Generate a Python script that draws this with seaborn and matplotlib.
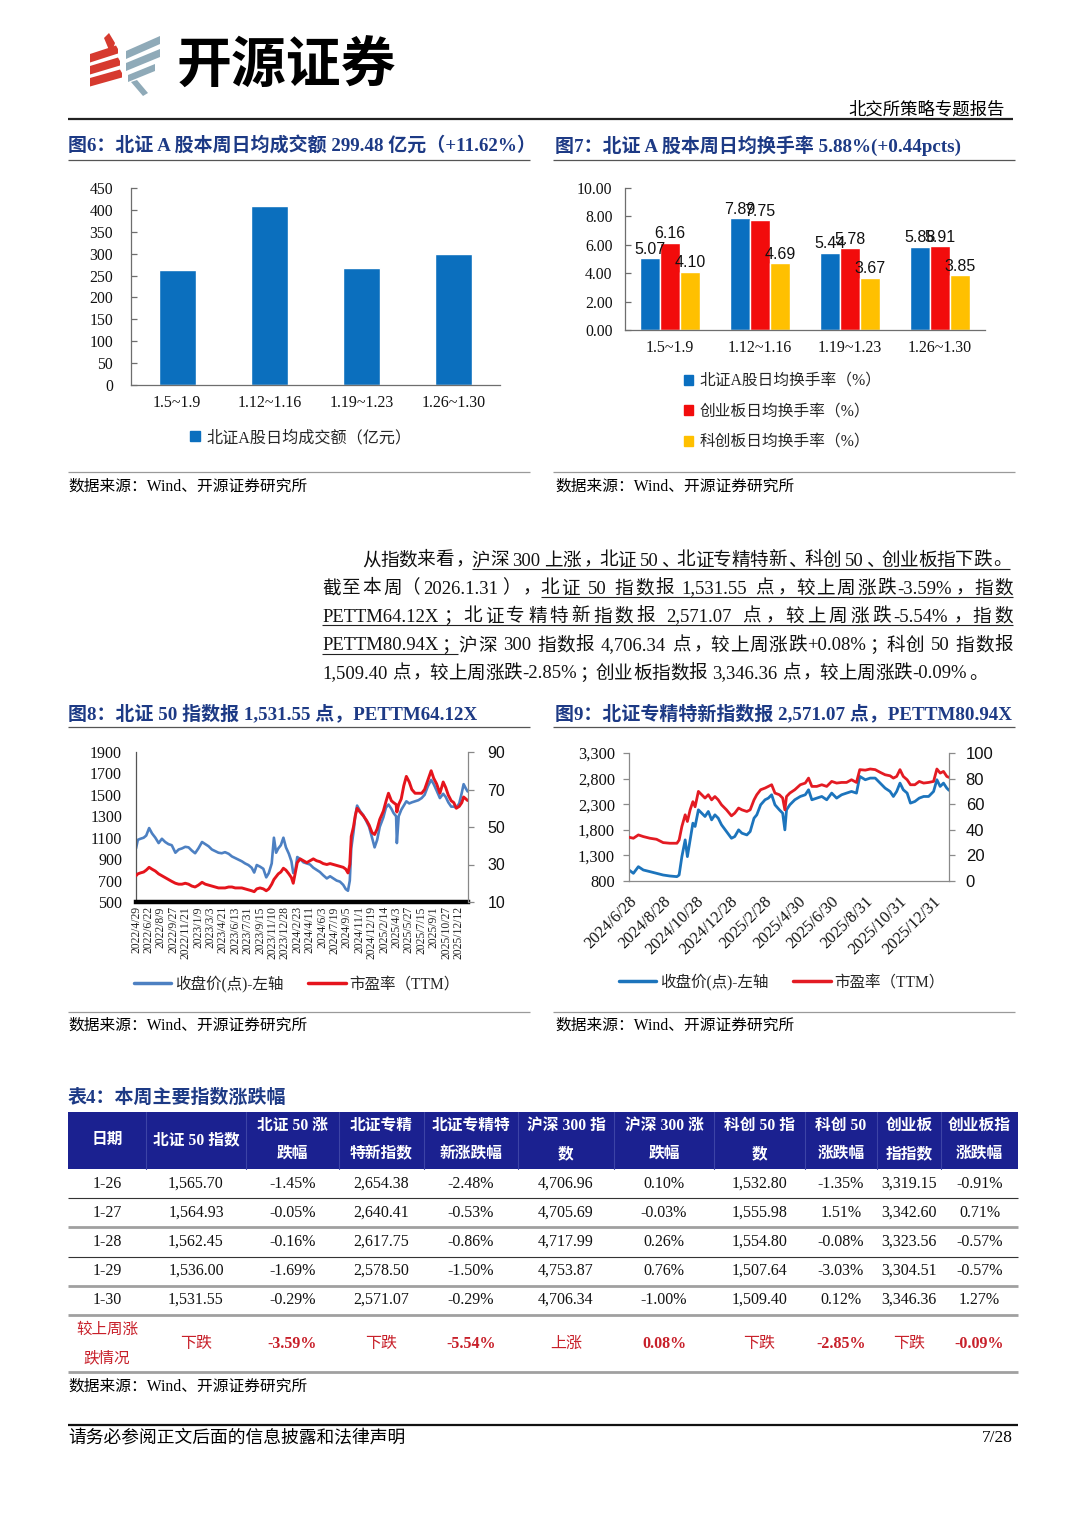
import re
import numpy as np
import pandas as pd
import matplotlib
matplotlib.use('Agg')
import matplotlib.pyplot as plt
import seaborn as sns
from matplotlib.lines import Line2D
from matplotlib.patches import Patch, Rectangle, Polygon

# ----------------------------- DATA -----------------------------
weeks = ['1.5~1.9', '1.12~1.16', '1.19~1.23', '1.26~1.30']
f6_amount = [263.0, 409.5, 268.3, 299.48]

f7_series = ['北证A股日均换手率（%）', '创业板日均换手率（%）', '科创板日均换手率（%）']
f7_bse = [5.07, 7.89, 5.44, 5.88]
f7_cyb = [6.16, 7.75, 5.78, 5.91]
f7_star = [4.10, 4.69, 3.67, 3.85]

# Fig 8: trading-day index from 2022/4/29
f8_day = [0, 5, 12, 21, 28, 36, 44, 53, 62, 71, 80, 89, 98, 108, 117, 126, 135, 144, 153, 162,
          171, 181, 190, 199, 208, 217, 226, 235, 244, 254, 263, 272, 281, 290, 299, 308, 317, 324, 331, 340,
          349, 357, 364, 372, 378, 384, 390, 397, 404, 411, 419, 426, 431, 437, 442, 450, 459, 468, 477, 486,
          495, 504, 513, 523, 532, 541, 550, 559, 568, 575, 581, 586, 590, 596, 601, 606, 614, 623, 632, 639,
          647, 654, 661, 668, 678, 685, 692, 700, 706, 713, 715, 720, 727, 734, 741, 749, 756, 765, 774, 783,
          791, 800, 809, 816, 824, 833, 842, 849, 856, 864, 871, 878, 886, 893, 898, 904, 909]
f8_close = [1000, 1080, 1090, 1100, 1120, 1190, 1140, 1100, 1050, 1090, 1060, 1040, 1030, 960, 990, 1000, 1015, 1010, 980, 955,
            1000, 1060, 1040, 1020, 990, 975, 960, 955, 965, 950, 925, 910, 895, 880, 860, 845, 820, 775, 845, 830,
            810, 730, 770, 860, 1100, 960, 1000, 1030, 1100, 1010, 950, 880, 770, 800, 920, 900, 870, 860, 850, 820,
            800, 780, 750, 720, 740, 720, 700, 690, 660, 620, 605, 700, 1000, 1150, 1300, 1400, 1350, 1310, 1250, 1200,
            1100, 1010, 1080, 1200, 1290, 1380, 1410, 1370, 1330, 1300, 1050, 1300, 1360, 1400, 1440, 1420, 1430, 1440, 1450, 1470,
            1500, 1580, 1640, 1600, 1540, 1470, 1510, 1480, 1430, 1390, 1390, 1380, 1420, 1520, 1600, 1560, 1531.55]
f8_pe = [24, 25, 25.5, 26, 27, 28.5, 27.5, 26.5, 25, 24, 23, 22, 21, 20, 19.5, 19.5, 20, 19.5, 18.5, 18,
         19, 20.5, 19.5, 19, 18.5, 18, 17.5, 17.5, 17.5, 18, 18, 17.5, 17.5, 17.5, 17, 16.5, 16, 15.5, 17, 17.5,
         17, 16, 17, 19.5, 22, 23.5, 25, 26, 28, 27, 25, 23, 20, 26, 31, 33, 32, 31, 32, 33,
         32, 31.5, 30.5, 30, 30.5, 30, 29.5, 29, 28.5, 27.5, 25.5, 30, 45, 50, 56, 60, 58, 56, 53.5, 51,
         47, 46, 49, 54, 58.5, 63.5, 68, 64, 63, 62, 58, 62, 65, 72, 77, 74, 70, 68, 68, 68,
         70, 75, 80, 76, 73, 68, 74, 71, 67, 64, 63, 60, 61, 63, 66, 65, 64.12]
f8_tick_day = [0, 34, 68, 102, 136, 170, 204, 238, 272, 306, 340, 374, 408, 442, 476, 510, 544, 578,
               612, 646, 680, 714, 748, 782, 816, 850, 884]
f8_tick_labels = ['2022/4/29', '2022/6/22', '2022/8/9', '2022/9/27', '2022/11/21', '2023/1/9', '2023/3/3',
                  '2023/4/21', '2023/6/13', '2023/7/31', '2023/9/15', '2023/11/10', '2023/12/28', '2024/2/23',
                  '2024/4/11', '2024/6/3', '2024/7/19', '2024/9/5', '2024/11/1', '2024/12/19', '2025/2/14',
                  '2025/4/3', '2025/5/27', '2025/7/15', '2025/9/1', '2025/10/27', '2025/12/12']

# Fig 9: calendar days since 2024/6/28
f9_day = [0, 8, 17, 26, 38, 50, 62, 74, 87, 91, 96, 102, 106, 111, 116, 120, 126, 132, 138, 144,
          150, 156, 162, 168, 177, 186, 192, 199, 205, 214, 220, 227, 232, 239, 247, 253, 259, 265, 273, 279,
          283, 286, 292, 301, 311, 320, 326, 332, 341, 350, 359, 368, 377, 386, 395, 404, 413, 419, 429, 438,
          447, 456, 465, 474, 480, 486, 492, 498, 505, 511, 519, 527, 535, 544, 553, 559, 565, 571, 577, 581]
f9_close = [1015, 950, 1080, 1015, 983, 950, 917, 898, 885, 917, 1276, 1603, 1276, 1603, 1930, 1865, 2190, 2125, 2060, 2158,
            1994, 2092, 2027, 1897, 1766, 1635, 1668, 1799, 1734, 1700, 1766, 2027, 2092, 2288, 2386, 2419, 2484, 2288, 2190, 2125,
            1799, 2190, 2288, 2386, 2451, 2484, 2582, 2386, 2419, 2451, 2386, 2517, 2419, 2484, 2517, 2549, 2517, 2843, 2778, 2810,
            2810, 2712, 2614, 2549, 2451, 2549, 2712, 2582, 2517, 2321, 2353, 2419, 2451, 2451, 2549, 2778, 2647, 2712, 2614, 2571.07]
f9_pe = [34.2, 33.4, 36, 34.7, 33.4, 32.6, 30, 29.5, 29.5, 32, 42.6, 51.7, 46.5, 55.6, 62, 58, 70, 67.4, 64.8, 67.4,
         63.4, 66, 63.4, 59.5, 55.6, 50.9, 53, 57, 55.6, 54.3, 55.6, 63.4, 67.4, 71.3, 72.6, 73.9, 75.2, 68.7, 67.4, 64.8,
         55.6, 66, 68.7, 71.3, 75.2, 76.5, 80.4, 73.9, 73.9, 75.2, 73.9, 77.8, 76.5, 77, 77, 79.1, 77, 87, 86.6, 87.5,
         87, 84.9, 83, 82.2, 80.4, 81.7, 87, 81.7, 79.1, 75.2, 75.2, 77.8, 76.5, 77, 77.8, 87.5, 84.3, 85.6, 81.7, 80.94]
f9_tick_dates = ['2024-06-28', '2024-08-28', '2024-10-28', '2024-12-28', '2025-02-28', '2025-04-30',
                 '2025-06-30', '2025-08-31', '2025-10-31', '2025-12-31']
f9_tick_labels = ['2024/6/28', '2024/8/28', '2024/10/28', '2024/12/28', '2025/2/28', '2025/4/30',
                  '2025/6/30', '2025/8/31', '2025/10/31', '2025/12/31']

# Table 4
t_dates = ['1-26', '1-27', '1-28', '1-29', '1-30']
t_bz50 = [1565.70, 1564.93, 1562.45, 1536.00, 1531.55]
t_bz50_chg = [-1.45, -0.05, -0.16, -1.69, -0.29]
t_zjtx = [2654.38, 2640.41, 2617.75, 2578.50, 2571.07]
t_zjtx_chg = [-2.48, -0.53, -0.86, -1.50, -0.29]
t_hs300 = [4706.96, 4705.69, 4717.99, 4753.87, 4706.34]
t_hs300_chg = [0.10, -0.03, 0.26, 0.76, -1.00]
t_kc50 = [1532.80, 1555.98, 1554.80, 1507.64, 1509.40]
t_kc50_chg = [-1.35, 1.51, -0.08, -3.03, 0.12]
t_cyb = [3319.15, 3342.60, 3323.56, 3304.51, 3346.36]
t_cyb_chg = [-0.91, 0.71, -0.57, -0.57, 1.27]
t_week = ['下跌', '-3.59%', '下跌', '-5.54%', '上涨', '0.08%', '下跌', '-2.85%', '下跌', '-0.09%']
t_headers = ['日期', '北证 50 指数', '北证 50 涨\n跌幅', '北证专精\n特新指数', '北证专精特\n新涨跌幅',
             '沪深 300 指\n数', '沪深 300 涨\n跌幅', '科创 50 指\n数', '科创 50\n涨跌幅', '创业板\n指指数', '创业板指\n涨跌幅']

# ----------------------------- STYLE -----------------------------
sns.set_theme(style='white')
SERIF = ['Liberation Serif', 'Noto Sans CJK SC']
SANS = ['Liberation Sans', 'Noto Sans CJK SC']
CJK = ['Noto Sans CJK SC', 'DejaVu Sans']
plt.rcParams['font.family'] = SERIF
plt.rcParams['axes.unicode_minus'] = False

W, H = 1080, 1527
fig = plt.figure(figsize=(W / 100, H / 100), dpi=100)
fig.patch.set_facecolor('white')
renderer = fig.canvas.get_renderer()

NAVY = '#1D3A85'
AXC = '#6E6E6E'
TSIZE = 13.65


def rect(l, t, r, b):
    return [l / W, 1 - b / H, (r - l) / W, (b - t) / H]


def hline(x0, x1, y, color='#000000', lw=1.0):
    fig.add_artist(Line2D([x0 / W, x1 / W], [1 - y / H] * 2, color=color, lw=lw,
                          transform=fig.transFigure, solid_capstyle='butt'))


def vline(x, y0, y1, color='#000000', lw=1.0):
    fig.add_artist(Line2D([x / W] * 2, [1 - y0 / H, 1 - y1 / H], color=color, lw=lw,
                          transform=fig.transFigure))


def txt(x, y, s, size, color='#000000', ha='left', va='center', weight='normal', family=None, **kw):
    return fig.text(x / W, 1 - y / H, s, fontsize=size, color=color, ha=ha, va=va,
                    weight=weight, family=family or SERIF, **kw)


def poly(pts, color):
    fig.add_artist(Polygon([(x / W, 1 - y / H) for x, y in pts], closed=True, facecolor=color,
                           edgecolor='none', transform=fig.transFigure))


# ----------------------------- HEADER -----------------------------
RL, GL = '#D63A2F', '#8FAAB8'
poly([(90, 54), (116, 45.5), (118, 49), (118, 53.5), (90, 62.5)], RL)
poly([(90, 66), (118, 57.5), (120, 61), (120, 65.5), (90, 74.5)], RL)
poly([(90, 78), (120, 69.5), (122, 73), (122, 77.5), (90, 86.5)], RL)
poly([(104, 38), (109, 33), (115, 43), (113, 49), (109, 50)], RL)
poly([(126, 51), (160, 36), (160, 44), (126, 59)], GL)
poly([(126, 63), (160, 49), (160, 57), (126, 71)], GL)
poly([(128, 75), (155, 64), (155, 71), (128, 82)], GL)
poly([(131, 82), (137, 80), (148, 93), (143, 96)], GL)
txt(177, 66, '开源证券', 39.5, weight='heavy', family=CJK)
txt(1005, 110, '北交所策略专题报告', 12.5, ha='right', family=CJK)
hline(68, 1013, 119, '#222222', 1.6)

# ----------------------------- TITLES / LINES -----------------------------
txt(68, 146, '图6：北证 A 股本周日均成交额 299.48 亿元（+11.62%）', TSIZE, color=NAVY, weight='bold')
txt(555, 146, '图7：北证 A 股本周日均换手率 5.88%(+0.44pcts)', TSIZE, color=NAVY, weight='bold')
for y in (160, 727):
    hline(68, 530, y, '#555555', 0.9)
    hline(553, 1015, y, '#555555', 0.9)
for y in (472, 1012):
    hline(68, 530, y, '#9A9A9A', 0.9)
    hline(553, 1015, y, '#9A9A9A', 0.9)
txt(68, 487, '数据来源：Wind、开源证券研究所', 11.3)
txt(555, 487, '数据来源：Wind、开源证券研究所', 11.3)
txt(68, 1026, '数据来源：Wind、开源证券研究所', 11.3)
txt(555, 1026, '数据来源：Wind、开源证券研究所', 11.3)
txt(68, 714, '图8：北证 50 指数报 1,531.55 点，PETTM64.12X', TSIZE, color=NAVY, weight='bold')
txt(555, 714, '图9：北证专精特新指数报 2,571.07 点，PETTM80.94X', TSIZE, color=NAVY, weight='bold')


def style_bar_axes(ax, ylab_pad):
    for s in ('top', 'right'):
        ax.spines[s].set_visible(False)
    for s in ('left', 'bottom'):
        ax.spines[s].set_color(AXC)
        ax.spines[s].set_linewidth(0.9)
    ax.set_xlim(-0.5, 3.5)
    ax.set_xticks([-0.5, 0.5, 1.5, 2.5, 3.5], minor=True)
    ax.tick_params(axis='x', which='major', length=0, pad=7, labelsize=11.5, colors='#111111')
    ax.tick_params(axis='x', which='minor', length=5, width=0.9, direction='out', color=AXC)
    ax.tick_params(axis='y', which='major', length=4, width=0.9, direction='in', color=AXC,
                   pad=ylab_pad, labelsize=11.3, left=True, labelcolor='#111111')
    ax.set_xlabel('')
    ax.set_ylabel('')


# ----------------------------- FIG 6 -----------------------------
ax6 = fig.add_axes(rect(131, 188, 500, 385))
df6 = pd.DataFrame({'week': weeks, 'amount': f6_amount})
sns.barplot(data=df6, x='week', y='amount', color='#0B6FBE', saturation=1, width=0.4, ax=ax6)
ax6.set_ylim(0, 450)
ax6.set_yticks(range(0, 451, 50))
style_bar_axes(ax6, 13)
fig.legend([Patch(color='#0B6FBE')], ['北证A股日均成交额（亿元）'], loc='center left',
           bbox_to_anchor=(190 / W, 1 - 438 / H), frameon=False, prop={'family': SERIF, 'size': 11.6},
           handlelength=0.6, handleheight=0.6, handletextpad=0.4, borderpad=0, borderaxespad=0)

# ----------------------------- FIG 7 -----------------------------
ax7 = fig.add_axes(rect(625, 188, 985, 330))
c7 = ['#0A6FC0', '#F20C0C', '#FFC000']
df7 = pd.DataFrame({
    'week': weeks * 3,
    'series': [f7_series[0]] * 4 + [f7_series[1]] * 4 + [f7_series[2]] * 4,
    'rate': f7_bse + f7_cyb + f7_star,
})
sns.barplot(data=df7, x='week', y='rate', hue='series', hue_order=f7_series, palette=c7,
            saturation=1, width=0.667, ax=ax7, legend=False)
for cont in ax7.containers:
    ax7.bar_label(cont, fmt='%.2f', padding=1, fontsize=11.5, fontfamily='Liberation Sans', color='#111111')
ax7.set_ylim(0, 10)
ax7.set_yticks(np.arange(0, 10.01, 2))
ax7.set_yticklabels([f'{v:.2f}' for v in np.arange(0, 10.01, 2)])
style_bar_axes(ax7, 9)
fig.legend([Patch(color=c) for c in c7], f7_series, loc='center left',
           bbox_to_anchor=(684 / W, 1 - 412 / H), frameon=False, prop={'family': SERIF, 'size': 11.3},
           handlelength=0.6, handleheight=0.6, handletextpad=0.4, labelspacing=0.9,
           borderpad=0, borderaxespad=0)

# ----------------------------- PARAGRAPH -----------------------------
PSIZE = 13.4
_adv = {}
LEFT_PUNCT = '，、。；：）'
RIGHT_PUNCT = '（'


def advance(tok):
    if tok in _adv:
        return _adv[tok]

    def wid(s):
        t = fig.text(0, 0, s, fontsize=PSIZE, family=SERIF)
        w = t.get_window_extent(renderer=renderer).width
        t.remove()
        return w
    base = wid('HH')
    v = wid('H' + tok + 'H') - base
    _adv[tok] = v
    return v


para = [
    (362, 1010, True, [('从指数来看，', False), ('沪深 300 上涨，北证 50、北证专精特新、科创 50、创业板指下跌。', True)]),
    (322, 1013, True, [('截至本周（2026.1.31），', False), ('北证 50 指数报 1,531.55 点，较上周涨跌-3.59%，指数', True)]),
    (322, 1013, True, [('PETTM64.12X；北证专精特新指数报 2,571.07 点，较上周涨跌-5.54%，指数', True)]),
    (322, 1013, True, [('PETTM80.94X；', True), ('沪深 300 指数报 4,706.34 点，较上周涨跌+0.08%；科创 50 指数报', False)]),
    (322, 1013, False, [('1,509.40 点，较上周涨跌-2.85%；创业板指数报 3,346.36 点，较上周涨跌-0.09%。', False)]),
]
line_y = [559, 587, 615, 644, 672]
for (x0, x1, just, segs), yc in zip(para, line_y):
    toks = []
    for s, ul in segs:
        for tk in re.findall(r'[A-Za-z0-9.,%+\-/]+|\s|.', s):
            toks.append((tk, ul))
    widths = [advance(tk) for tk, _ in toks]
    gap = (x1 - x0 - sum(widths)) / (len(toks) - 1) if just else 0.0
    base_y = yc + 6.5
    x = x0
    ul_start = None
    ul_end = None
    for (tk, ul), w in zip(toks, widths):
        if tk.strip():
            if tk in LEFT_PUNCT:
                xp, ha = x + 0.12 * w, 'left'
            elif tk in RIGHT_PUNCT:
                xp, ha = x + 0.88 * w, 'right'
            else:
                xp, ha = x + w / 2, 'center'
            fig.text(xp / W, 1 - base_y / H, tk, fontsize=PSIZE, family=SERIF,
                     ha=ha, va='baseline', color='#111111')
        if ul:
            if ul_start is None:
                ul_start = x
            ul_end = x + w
        x += w + gap
    if ul_start is not None:
        hline(ul_start, ul_end, base_y + 3.5, '#222222', 0.8)


def style_line_axes(ax, axb):
    ax.spines['top'].set_visible(False)
    ax.spines['right'].set_visible(False)
    for s in ('top', 'left', 'bottom'):
        axb.spines[s].set_visible(False)
    ax.set_xlabel('')
    ax.set_ylabel('')
    axb.set_ylabel('')


# ----------------------------- FIG 8 -----------------------------
blue8, red8 = '#4D80C2', '#E5141C'
ax8 = fig.add_axes(rect(136, 752, 468, 902))
df8 = pd.DataFrame({'day': f8_day, 'close': f8_close, 'pe': f8_pe})
sns.lineplot(data=df8, x='day', y='close', ax=ax8, color=blue8, linewidth=1.9,
             estimator=None, errorbar=None, legend=False)
ax8b = ax8.twinx()
sns.lineplot(data=df8, x='day', y='pe', ax=ax8b, color=red8, linewidth=2.1,
             estimator=None, errorbar=None, legend=False)
ax8.set_xlim(0, 910)
ax8.set_ylim(500, 1900)
ax8.set_yticks(range(500, 1901, 200))
ax8b.set_ylim(10, 90)
ax8b.set_yticks(range(10, 91, 20))
ax8.set_xticks(f8_tick_day)
ax8.set_xticklabels(f8_tick_labels, rotation=90, fontsize=8.4)
style_line_axes(ax8, ax8b)
ax8.spines['left'].set_color('#555555')
ax8.spines['left'].set_linewidth(0.9)
ax8.spines['bottom'].set_color('#000000')
ax8.spines['bottom'].set_linewidth(3.2)
ax8b.spines['right'].set_color('#888888')
ax8b.spines['right'].set_linewidth(0.9)
ax8.tick_params(axis='x', length=0, pad=3, colors='#222222')
ax8.tick_params(axis='y', length=0, pad=10, labelsize=11.5, colors='#111111')
ax8b.tick_params(axis='y', length=4, width=0.9, direction='out', color='#888888', pad=10,
                 labelsize=11.5, labelcolor='#111111')
for lb in ax8b.get_yticklabels():
    lb.set_fontfamily('Liberation Sans')
fig.legend([Line2D([], [], color=blue8, lw=2.5), Line2D([], [], color=red8, lw=2.5)],
           ['收盘价(点)-左轴', '市盈率（TTM）'], loc='center left', ncol=2,
           bbox_to_anchor=(134 / W, 1 - 984 / H), frameon=False, prop={'family': SERIF, 'size': 11.2},
           handlelength=2.4, handletextpad=0.25, columnspacing=1.6, borderpad=0, borderaxespad=0)

# ----------------------------- FIG 9 -----------------------------
blue9, red9 = '#1C74BC', '#E31B23'
ax9 = fig.add_axes(rect(629, 753, 949, 881))
df9 = pd.DataFrame({'date': pd.Timestamp('2024-06-28') + pd.to_timedelta(f9_day, unit='D'),
                    'close': f9_close, 'pe': f9_pe})
sns.lineplot(data=df9, x='date', y='close', ax=ax9, color=blue9, linewidth=2.0,
             estimator=None, errorbar=None, legend=False)
ax9b = ax9.twinx()
sns.lineplot(data=df9, x='date', y='pe', ax=ax9b, color=red9, linewidth=2.0,
             estimator=None, errorbar=None, legend=False)
ax9.set_xlim(pd.Timestamp('2024-06-28'), pd.Timestamp('2026-01-30'))
ax9.set_ylim(800, 3300)
ax9.set_yticks(range(800, 3301, 500))
ax9.set_yticklabels([f'{v:,}' for v in range(800, 3301, 500)])
ax9b.set_ylim(0, 100)
ax9b.set_yticks(range(0, 101, 20))
ax9.set_xticks(pd.to_datetime(f9_tick_dates))
ax9.set_xticklabels(f9_tick_labels, rotation=45, ha='right', rotation_mode='anchor', fontsize=11.8)
style_line_axes(ax9, ax9b)
for s in ('left', 'bottom'):
    ax9.spines[s].set_color('#8A8A8A')
    ax9.spines[s].set_linewidth(0.9)
ax9b.spines['right'].set_color('#8A8A8A')
ax9b.spines['right'].set_linewidth(0.9)
ax9.tick_params(axis='x', length=4, width=0.9, direction='out', color='#8A8A8A', pad=5, colors='#111111')
ax9.tick_params(axis='x', color='#8A8A8A')
ax9.tick_params(axis='y', length=4, width=0.9, direction='out', color='#8A8A8A', pad=6,
                labelsize=11.8, labelcolor='#111111')
ax9b.tick_params(axis='y', length=4, width=0.9, direction='out', color='#8A8A8A', pad=8,
                 labelsize=12, labelcolor='#111111')
for lb in ax9b.get_yticklabels():
    lb.set_fontfamily('Liberation Sans')
fig.legend([Line2D([], [], color=blue9, lw=2.5), Line2D([], [], color=red9, lw=2.5)],
           ['收盘价(点)-左轴', '市盈率（TTM）'], loc='center left', ncol=2,
           bbox_to_anchor=(619 / W, 1 - 982 / H), frameon=False, prop={'family': SERIF, 'size': 11.2},
           handlelength=2.4, handletextpad=0.25, columnspacing=1.6, borderpad=0, borderaxespad=0)

# ----------------------------- TABLE -----------------------------
txt(68, 1098, '表4：本周主要指数涨跌幅', TSIZE, color=NAVY, weight='bold')
col_edges = [68, 146, 246, 339, 424, 518, 614, 714, 805, 877, 941, 1018]
centers = [(a + b) / 2 for a, b in zip(col_edges[:-1], col_edges[1:])]
HEAD_BG = '#1B2190'
fig.add_artist(Rectangle((68 / W, 1 - 1169 / H), (1018 - 68) / W, (1169 - 1112) / H,
                         facecolor=HEAD_BG, edgecolor='none', transform=fig.transFigure))
for xe in col_edges[1:-1]:
    vline(xe, 1112, 1169, '#3D44A6', 0.8)
for cx, h in zip(centers, t_headers):
    parts = h.split('\n')
    if len(parts) == 1:
        txt(cx, 1140, parts[0], 11.3, color='white', ha='center', weight='bold')
    else:
        txt(cx, 1126, parts[0], 11.3, color='white', ha='center', weight='bold')
        txt(cx, 1154, parts[1], 11.3, color='white', ha='center', weight='bold')

row_y = [1184, 1213, 1242, 1271, 1300]
for i, yy in enumerate(row_y):
    vals = [t_dates[i], f'{t_bz50[i]:,.2f}', f'{t_bz50_chg[i]:.2f}%', f'{t_zjtx[i]:,.2f}',
            f'{t_zjtx_chg[i]:.2f}%', f'{t_hs300[i]:,.2f}', f'{t_hs300_chg[i]:.2f}%',
            f'{t_kc50[i]:,.2f}', f'{t_kc50_chg[i]:.2f}%', f'{t_cyb[i]:,.2f}', f'{t_cyb_chg[i]:.2f}%']
    for cx, v in zip(centers, vals):
        txt(cx, yy, v, 11.5, color='#111111', ha='center')

sep = [(1198, '#333333', 0.8), (1227, '#A0A0A0', 2.0), (1257, '#333333', 0.8),
       (1286, '#A0A0A0', 2.0), (1315, '#A0A0A0', 2.0), (1372, '#A0A0A0', 2.0)]
for yy, c, lw in sep:
    hline(68, 1018, yy, c, lw)

RED = '#C8202A'
txt(centers[0], 1330, '较上周涨', 11.2, color=RED, ha='center')
txt(centers[0], 1358, '跌情况', 11.2, color=RED, ha='center')
for j, (cx, v) in enumerate(zip(centers[1:], t_week)):
    bold = j % 2 == 1
    txt(cx, 1344, v, 11.5, color=RED, ha='center', weight='bold' if bold else 'normal')
txt(68, 1387, '数据来源：Wind、开源证券研究所', 11.3)

# ----------------------------- FOOTER -----------------------------
hline(68, 1018, 1425, '#111111', 1.6)
txt(68, 1438, '请务必参阅正文后面的信息披露和法律声明', 12.8)
txt(1013, 1438, '7/28', 12.5, ha='right')

fig.savefig('out.png', dpi=100, facecolor='white')
